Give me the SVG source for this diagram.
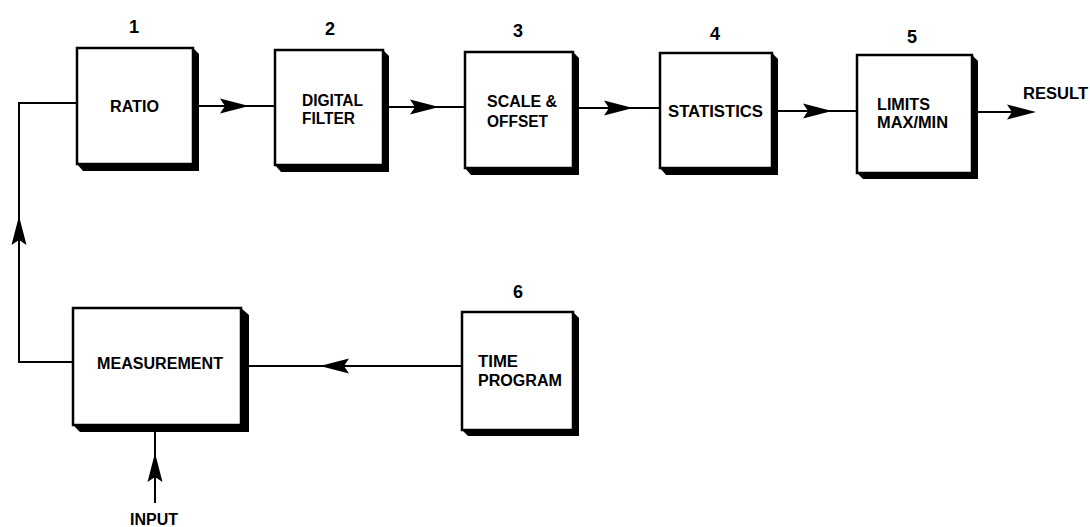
<svg xmlns="http://www.w3.org/2000/svg" width="1090" height="527" viewBox="0 0 1090 527">
<style>
.box{fill:#fff;stroke:#000;stroke-width:2.5}
.sh{fill:#000}
.ln{fill:none;stroke:#000;stroke-width:2}
.t{font-family:"Liberation Sans",Arial,sans-serif;font-weight:bold;font-size:16px;fill:#000}
.n{font-family:"Liberation Sans",Arial,sans-serif;font-weight:bold;font-size:18px;fill:#000;text-anchor:middle}
</style>
<defs>
<path id="ah" d="M0,0 L-29,-7.5 L-24,0 L-29,7.5 Z" fill="#000"/>
</defs>
<rect width="1090" height="527" fill="#fff"/>
<g id="connectors">
<line class="ln" x1="197" y1="106" x2="275" y2="106"/>
<use href="#ah" transform="translate(249,106)"/>
<line class="ln" x1="388" y1="107" x2="465" y2="107"/>
<use href="#ah" transform="translate(439,107)"/>
<line class="ln" x1="578" y1="108" x2="660" y2="108"/>
<use href="#ah" transform="translate(633,108)"/>
<line class="ln" x1="777" y1="111" x2="857" y2="111"/>
<use href="#ah" transform="translate(832,111)"/>
<line class="ln" x1="977" y1="112" x2="1012" y2="112"/>
<use href="#ah" transform="translate(1036,112)"/>
<polyline class="ln" points="73,362 19,362 19,103 77,103"/>
<use href="#ah" transform="translate(19,216) rotate(-90)"/>
<line class="ln" x1="462" y1="366" x2="249" y2="366"/>
<use href="#ah" transform="translate(320,366) rotate(180)"/>
<line class="ln" x1="155" y1="503" x2="155" y2="431"/>
<use href="#ah" transform="translate(155,453) rotate(-90)"/>
</g>
<g id="n1">
<path class="sh" d="M193,48 L199,54 L199,171 L83,171 L77,164 Z"/>
<rect class="box" x="77" y="48" width="116" height="116"/>
<text class="n" x="134" y="33">1</text>
<text class="t" x="110" y="112" textLength="49" lengthAdjust="spacingAndGlyphs">RATIO</text>
</g>
<g id="n2">
<path class="sh" d="M383,50 L389,56 L389,172 L281,172 L275,165 Z"/>
<rect class="box" x="275" y="50" width="108" height="115"/>
<text class="n" x="330" y="35">2</text>
<text class="t" x="302" y="106" textLength="61" lengthAdjust="spacingAndGlyphs">DIGITAL</text>
<text class="t" x="302" y="124" textLength="53" lengthAdjust="spacingAndGlyphs">FILTER</text>
</g>
<g id="n3">
<path class="sh" d="M573,52 L579,58 L579,175 L471,175 L465,168 Z"/>
<rect class="box" x="465" y="52" width="108" height="116"/>
<text class="n" x="518" y="37">3</text>
<text class="t" x="487" y="107" textLength="70" lengthAdjust="spacingAndGlyphs">SCALE &amp;</text>
<text class="t" x="487" y="127" textLength="61" lengthAdjust="spacingAndGlyphs">OFFSET</text>
</g>
<g id="n4">
<path class="sh" d="M772,53 L778,59 L778,175 L666,175 L660,168 Z"/>
<rect class="box" x="660" y="53" width="112" height="115"/>
<text class="n" x="715" y="40">4</text>
<text class="t" x="668" y="117" textLength="95" lengthAdjust="spacingAndGlyphs">STATISTICS</text>
</g>
<g id="n5">
<path class="sh" d="M972,55 L978,61 L978,179 L863,179 L857,173 Z"/>
<rect class="box" x="857" y="55" width="115" height="118"/>
<text class="n" x="912" y="43">5</text>
<text class="t" x="877" y="110" textLength="53" lengthAdjust="spacingAndGlyphs">LIMITS</text>
<text class="t" x="877" y="128" textLength="71" lengthAdjust="spacingAndGlyphs">MAX/MIN</text>
</g>
<g id="result">
<text class="t" x="1023" y="99" textLength="65" lengthAdjust="spacingAndGlyphs">RESULT</text>
</g>
<g id="n-measurement">
<path class="sh" d="M241,308 L249,315 L249,432 L80,432 L73,425 Z"/>
<rect class="box" x="73" y="308" width="168" height="117"/>
<text class="t" x="97" y="369" textLength="126" lengthAdjust="spacingAndGlyphs">MEASUREMENT</text>
</g>
<g id="n6">
<path class="sh" d="M573,312 L579,318 L579,436 L468,436 L462,430 Z"/>
<rect class="box" x="462" y="312" width="111" height="118"/>
<text class="n" x="518" y="298">6</text>
<text class="t" x="478" y="367" textLength="40" lengthAdjust="spacingAndGlyphs">TIME</text>
<text class="t" x="478" y="386" textLength="84" lengthAdjust="spacingAndGlyphs">PROGRAM</text>
</g>
<g id="input">
<text class="t" x="154" y="525" text-anchor="middle" font-size="15" textLength="48" lengthAdjust="spacingAndGlyphs">INPUT</text>
</g>
</svg>
